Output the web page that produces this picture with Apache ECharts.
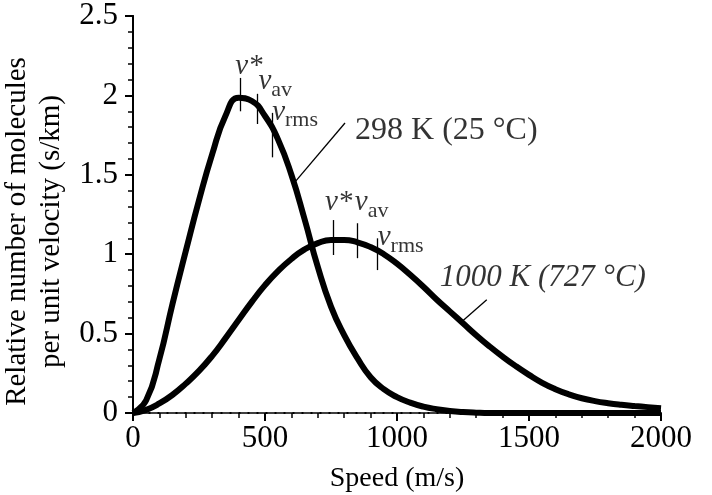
<!DOCTYPE html>
<html>
<head>
<meta charset="utf-8">
<script src="https://cdn.jsdelivr.net/npm/echarts@6/dist/echarts.min.js"></script>
<style>
  html, body { margin: 0; padding: 0; background: #fff; }
  #main { width: 712px; height: 495px; }
</style>
</head>
<body>
<div id="main"></div>
<script>
// speeds (m/s) the curves are read at
const speeds = [0, 50, 100, 150, 200, 250, 300, 350, 400, 450, 500, 550, 600, 650, 700, 750, 800, 850, 900, 950,
  1000, 1050, 1100, 1150, 1200, 1250, 1300, 1350, 1400, 1450, 1500, 1550, 1600, 1650, 1700, 1750, 1800, 1850, 1900, 1950, 2000];
// relative number of molecules (s/km)
const curve298 = [0, 0.08, 0.34, 0.69, 1.02, 1.34, 1.63, 1.87, 1.985, 1.965, 1.87, 1.72, 1.50, 1.22, 0.92, 0.67, 0.49, 0.345, 0.225, 0.15,
  0.1, 0.065, 0.04, 0.024, 0.013, 0.006, 0.002, 0, 0, 0, 0, 0, 0, 0, 0, 0, 0, 0, 0, 0, 0];
const curve1000 = [0, 0.02, 0.06, 0.115, 0.185, 0.265, 0.36, 0.47, 0.585, 0.70, 0.805, 0.895, 0.97, 1.03, 1.07, 1.09, 1.09, 1.075, 1.045, 1.0,
  0.94, 0.87, 0.795, 0.715, 0.64, 0.565, 0.49, 0.42, 0.355, 0.295, 0.24, 0.19, 0.15, 0.118, 0.093, 0.075, 0.062, 0.052, 0.044, 0.037, 0.03];

// v*, v_av, v_rms tick marks: [speed, bottom, top]
const marks298 = [[408, 1.90, 2.11], [470, 1.82, 2.01], [528, 1.61, 1.89]];
const marks1000 = [[757, 0.995, 1.215], [848, 0.975, 1.195], [927, 0.90, 1.10]];
// text by the marks (left edge): [speed, value, text]
const markText298 = [[387, 2.17, '{v|ν*}'], [475, 2.07, '{v|ν}{s|av}'], [527, 1.88, '{v|ν}{s|rms}']];
const markText1000 = [[727, 1.31, '{v|ν*}'], [840, 1.31, '{v|ν}{s|av}'], [927, 1.09, '{v|ν}{s|rms}']];

// curve names with their leader lines
const curveNames = ['298 K (25 °C)', '1000 K (727 °C)'];
const nameAt = [[841, 1.78], [1162, 0.85]];
const leaders = [[[803, 1.826], [614, 1.455]], [[1340, 0.713], [1245, 0.574]]];

const font = 'Liberation Serif, Times New Roman, serif';

function pairs(ys) {
    return speeds.map((s, i) => [s, ys[i]]);
}
function tickLines(list) {
    return list.map((m) => [{coord: [m[0], m[1]]}, {coord: [m[0], m[2]]}]);
}

const richV = {
    v: {fontFamily: font, fontStyle: 'italic', fontSize: 29, color: '#000', verticalAlign: 'top', lineHeight: 34},
    s: {fontFamily: font, fontSize: 22, color: '#000', verticalAlign: 'bottom', lineHeight: 22}
};

const chart = echarts.init(document.getElementById('main'));
const option = {
    animation: false,
    grid: {left: 133, right: 51, top: 16, bottom: 82, outerBoundsMode: 'none', containLabel: false},
    xAxis: [{
        type: 'value', min: 0, max: 2000, interval: 500,
        name: 'Speed (m/s)', nameLocation: 'middle', nameGap: 52,
        nameTextStyle: {fontFamily: font, fontSize: 28, color: '#000'},
        axisLine: {lineStyle: {color: '#000', width: 2}},
        axisTick: {length: 8, lineStyle: {color: '#000', width: 2}},
        minorTick: {show: true, splitNumber: 5, length: 5, lineStyle: {color: '#000', width: 1.5}},
        axisLabel: {fontFamily: font, fontSize: 31, color: '#000', margin: 10, formatter: (v) => String(v)},
        splitLine: {show: false}
    }, {
        type: 'value', min: 0, max: 2000, position: 'top',
        axisLine: {show: true, lineStyle: {color: '#555', width: 1.5, type: [6, 3]}},
        axisTick: {show: false}, axisLabel: {show: false}, splitLine: {show: false}
    }],
    yAxis: [{
        type: 'value', min: 0, max: 2.5, interval: 0.5,
        name: 'Relative number of molecules\nper unit velocity (s/km)',
        nameLocation: 'middle', nameRotate: 90, nameGap: 61,
        nameTextStyle: {fontFamily: font, fontSize: 29, color: '#000', lineHeight: 34, padding: [0, 34, 0, 0]},
        axisLine: {show: true, lineStyle: {color: '#000', width: 2}},
        axisTick: {show: true, length: 8, lineStyle: {color: '#000', width: 2}},
        minorTick: {show: true, splitNumber: 5, length: 5, lineStyle: {color: '#000', width: 1.5}},
        axisLabel: {fontFamily: font, fontSize: 31, color: '#000', margin: 15},
        splitLine: {show: false}
    }, {
        type: 'value', min: 0, max: 2.5, position: 'right',
        axisLine: {show: true, lineStyle: {color: '#000', width: 2}},
        axisTick: {show: false}, axisLabel: {show: false}, splitLine: {show: false}
    }],
    series: [{
        type: 'line', name: curveNames[0], data: pairs(curve298),
        smooth: 0.5, showSymbol: false,
        lineStyle: {color: '#000', width: 6},
        markLine: {
            silent: true, symbol: 'none', label: {show: false},
            lineStyle: {color: '#000', width: 1.3, type: 'solid'},
            data: tickLines(marks298).concat([[{coord: leaders[0][0]}, {coord: leaders[0][1]}]])
        }
    }, {
        type: 'line', name: curveNames[1], data: pairs(curve1000),
        smooth: 0.5, showSymbol: false,
        lineStyle: {color: '#000', width: 6},
        markLine: {
            silent: true, symbol: 'none', label: {show: false},
            lineStyle: {color: '#000', width: 1.3, type: 'solid'},
            data: tickLines(marks1000).concat([[{coord: leaders[1][0]}, {coord: leaders[1][1]}]])
        }
    }, {
        // ν labels
        type: 'scatter', symbolSize: 0, silent: true,
        data: markText298.concat(markText1000).map((t) => ({value: [t[0], t[1]], text: t[2]})),
        label: {
            show: true, position: 'right', distance: 0,
            formatter: (p) => p.data.text, rich: richV
        }
    }, {
        // curve names
        type: 'scatter', symbolSize: 0, silent: true,
        data: [
            {value: nameAt[0], label: {formatter: curveNames[0], fontStyle: 'normal', fontSize: 32}},
            {value: nameAt[1], label: {formatter: curveNames[1], fontStyle: 'italic', fontSize: 31}}
        ],
        label: {
            show: true, position: 'right', distance: 0,
            fontFamily: font, color: '#000'
        }
    }]
};
chart.setOption(option);
</script>
</body>
</html>
